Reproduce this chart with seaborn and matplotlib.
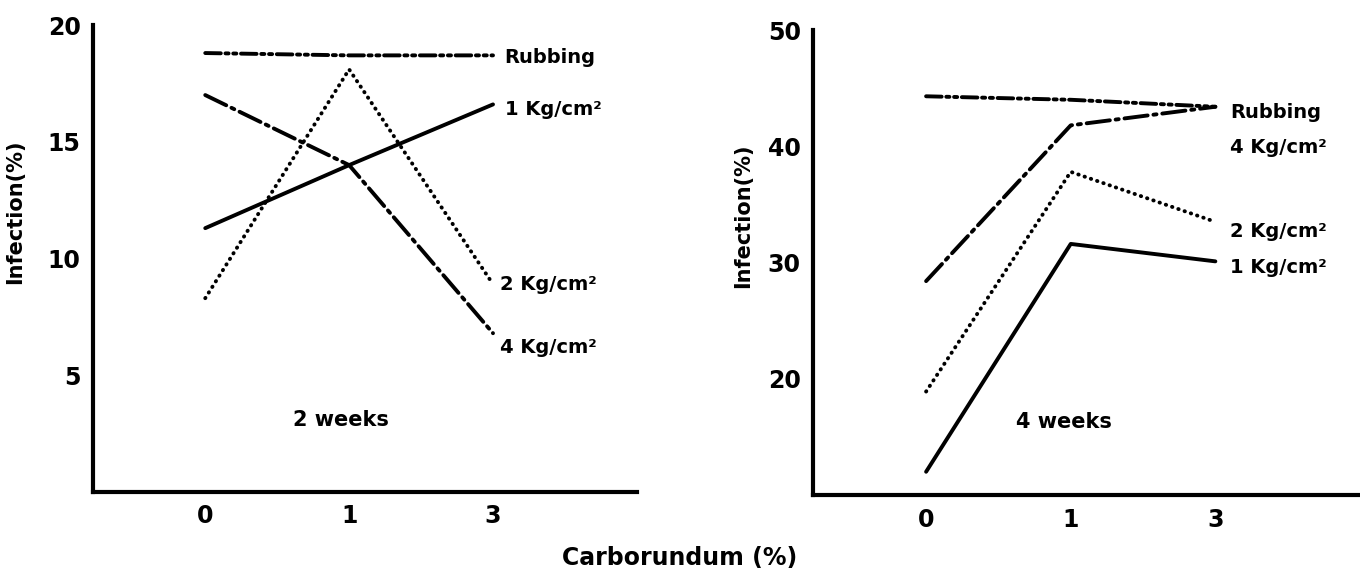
import pandas as pd
import numpy as np
import seaborn as sns
import matplotlib.pyplot as plt

#----------------------------------------
carborundum = ['0', '1', '3']
treatments = ['Rubbing', '1 Kg/cm²', '2 Kg/cm²', '4 Kg/cm²']

# 2 weeks
wk2_rubbing = [18.8, 18.7, 18.7]
wk2_1kg = [11.3, 14.0, 16.6]
wk2_2kg = [8.3, 18.1, 8.9]
wk2_4kg = [17.0, 14.0, 6.8]

# 4 weeks
wk4_rubbing = [44.3, 44.0, 43.4]
wk4_1kg = [12.0, 31.6, 30.1]
wk4_2kg = [18.9, 37.8, 33.5]
wk4_4kg = [28.4, 41.8, 43.4]
#----------------------------------------

def make_df(series):
    rows = []
    for name, vals in zip(treatments, series):
        for i, v in enumerate(vals):
            rows.append({'pos': i, 'treatment': name, 'infection': v})
    return pd.DataFrame(rows)

df2 = make_df([wk2_rubbing, wk2_1kg, wk2_2kg, wk2_4kg])
df4 = make_df([wk4_rubbing, wk4_1kg, wk4_2kg, wk4_4kg])

sns.set_style('white')
plt.rcParams['font.family'] = ['DejaVu Sans']
plt.rcParams['font.weight'] = 'bold'
plt.rcParams['text.color'] = 'black'
plt.rcParams['xtick.color'] = 'black'
plt.rcParams['ytick.color'] = 'black'
plt.rcParams['axes.labelcolor'] = 'black'

dashes = {'Rubbing': (4, 1.2, 0.8, 1.2, 0.8, 1.2),
          '1 Kg/cm²': '',
          '2 Kg/cm²': (0.1, 1.6),
          '4 Kg/cm²': (6, 1.5, 0.8, 1.5)}

fig = plt.figure(figsize=(13.6, 5.74), dpi=100)
ax1 = fig.add_axes([0.0684, 0.1429, 0.3999, 0.8135])
ax2 = fig.add_axes([0.598, 0.1376, 0.402, 0.8101])

for ax, df in [(ax1, df2), (ax2, df4)]:
    sns.lineplot(data=df, x='pos', y='infection', style='treatment',
                 dashes=dashes, color='black', linewidth=2.8,
                 dash_capstyle='round', legend=False, ax=ax)
    ax.set_xlim(-0.78, 3.0)
    ax.set_xticks(range(len(carborundum)))
    ax.set_xticklabels(carborundum)
    ax.set_xlabel('')
    ax.set_ylabel('Infection(%)', fontsize=15, fontweight='bold')
    sns.despine(ax=ax)
    for s in ['left', 'bottom']:
        ax.spines[s].set_linewidth(3)
        ax.spines[s].set_color('black')
    ax.tick_params(direction='in', length=5, width=2, labelsize=17, pad=9)
    for lab in ax.get_xticklabels() + ax.get_yticklabels():
        lab.set_fontweight('bold')

ax1.set_ylim(0, 20)
ax1.set_yticks([5, 10, 15, 20])
ax2.set_ylim(10, 50)
ax2.set_yticks([20, 30, 40, 50])
ax1.yaxis.set_label_coords(-0.125, 0.6)
ax2.yaxis.set_label_coords(-0.11, 0.6)

# end labels
lab_kw = dict(fontsize=14, fontweight='bold', va='center', ha='left')
ax1.text(2.08, wk2_rubbing[-1] - 0.1, 'Rubbing', **lab_kw)
ax1.text(2.08, wk2_1kg[-1] - 0.2, '1 Kg/cm²', **lab_kw)
ax1.text(2.05, wk2_2kg[-1], '2 Kg/cm²', **lab_kw)
ax1.text(2.05, wk2_4kg[-1] - 0.6, '4 Kg/cm²', **lab_kw)
ax2.text(2.1, wk4_rubbing[-1] - 0.5, 'Rubbing', **lab_kw)
ax2.text(2.1, wk4_4kg[-1] - 3.5, '4 Kg/cm²', **lab_kw)
ax2.text(2.1, wk4_2kg[-1] - 0.8, '2 Kg/cm²', **lab_kw)
ax2.text(2.1, wk4_1kg[-1] - 0.5, '1 Kg/cm²', **lab_kw)

ax1.text(0.94, 3.1, '2 weeks', fontsize=15, fontweight='bold', ha='center', va='center')
ax2.text(0.95, 16.3, '4 weeks', fontsize=15, fontweight='bold', ha='center', va='center')

fig.text(0.5, 0.028, 'Carborundum (%)', fontsize=17, fontweight='bold', ha='center', va='center')

fig.savefig('out.png', dpi=100)
